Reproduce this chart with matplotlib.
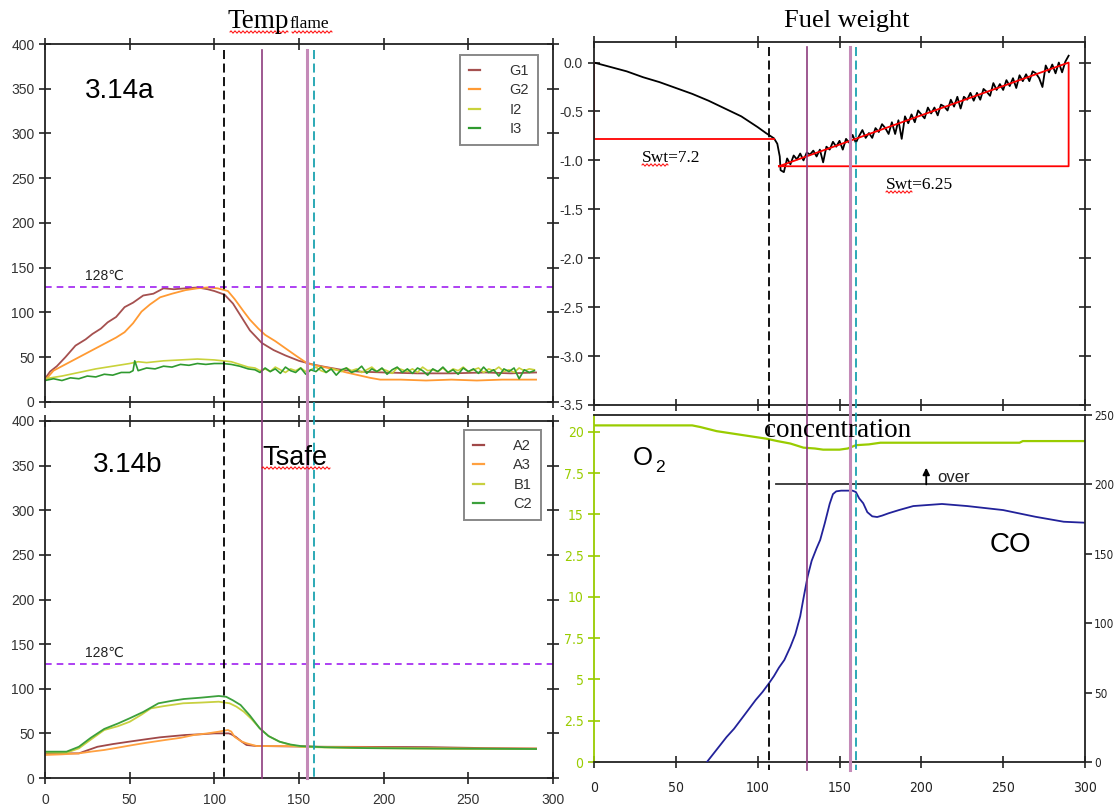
import numpy as np
import matplotlib
matplotlib.use("Agg")
import matplotlib.pyplot as plt
from matplotlib.lines import Line2D
from matplotlib.transforms import blended_transform_factory
from matplotlib import font_manager
from matplotlib.font_manager import FontProperties

plt.rcParams["font.family"] = ["Liberation Sans", "DejaVu Sans"]
plt.rcParams["axes.unicode_minus"] = False

SERIF = ["Liberation Serif", "DejaVu Serif"]

# a condensed face for the gas-analyser axis numbers, if one is installed
_narrow = [f for f in font_manager.fontManager.ttflist
           if "Narrow" in f.name or "Condensed" in f.name
           or str(f.stretch) in ("condensed", "semi-condensed", "extra-condensed")]
_narrow.sort(key=lambda f: (f.weight not in (400, "normal", "regular"), f.style != "normal"))
if _narrow:
    NARROW_FP = FontProperties(fname=_narrow[0].fname)
    NARROW_SIZE = 10
    NARROW_RIGHT = 8.5
else:
    NARROW_FP = FontProperties(family=["DejaVu Sans"])
    NARROW_SIZE = 9
    NARROW_RIGHT = 7.5

# ---------------------------------------------------------------- data
# 3.14a  flame temperatures (degC) vs time (s)
g1_t = [0, 3, 7, 12, 18, 24, 28, 33, 37, 42, 47, 52, 58, 64, 70, 76, 83, 90, 96, 100,
        106, 111, 116, 121, 128, 135, 142, 150, 158, 166, 175, 185, 200, 220, 240, 260, 275, 290]
g1_v = [26, 34, 40, 50, 63, 70, 76, 82, 89, 95, 106, 111, 119, 121, 127, 126, 127, 128, 126, 124,
        120, 110, 95, 80, 66, 58, 52, 46, 42, 39, 36, 34, 33, 32, 32, 33, 32, 33]
g2_t = [0, 5, 10, 17, 25, 32, 37, 42, 47, 52, 57, 62, 68, 75, 83, 90, 96, 102, 108, 112,
        117, 121, 126, 130, 136, 142, 148, 155, 162, 170, 178, 185, 192, 198, 210, 225, 240, 255, 270, 290]
g2_v = [24, 35, 40, 47, 55, 62, 67, 72, 78, 88, 101, 109, 117, 121, 125, 127, 128, 127, 124, 115,
        102, 92, 82, 75, 68, 60, 52, 43, 40, 37, 33, 30, 27, 25, 25, 24, 25, 24, 25, 25]
i2_t = [0, 10, 20, 30, 40, 50, 55, 60, 70, 80, 90, 100, 105, 110, 115, 120]
i2_v = [26, 29, 33, 37, 40, 43, 45, 44, 46, 47, 48, 47, 46, 45, 42, 39]
i3_t = [0, 5, 10, 15, 20, 25, 30, 35, 40, 45, 50, 52, 53, 55, 60, 65, 70, 75, 80, 85,
        90, 95, 100, 105, 110, 115, 120]
i3_v = [24, 26, 24, 27, 26, 29, 28, 31, 30, 33, 33, 35, 46, 35, 38, 37, 40, 39, 42, 41,
        43, 42, 43, 43, 42, 40, 37]
tail_t = list(range(124, 290, 3))
i2_tail = [38, 35, 37, 34, 39, 36, 33, 37, 35, 38, 34, 36, 39, 35, 33, 37, 36, 34, 38, 35,
           37, 33, 36, 39, 34, 37, 35, 32, 38, 36, 34, 37, 33, 39, 35, 36, 34, 38, 33, 37,
           35, 39, 34, 36, 38, 33, 37, 35, 39, 34, 36, 33, 38, 35, 37, 36]
i3_tail = [36, 33, 38, 34, 37, 32, 39, 35, 33, 38, 31, 36, 34, 39, 33, 37, 30, 36, 38, 33,
           35, 40, 32, 37, 34, 38, 31, 36, 39, 33, 37, 32, 38, 35, 30, 37, 34, 39, 33, 36,
           31, 38, 34, 37, 32, 39, 33, 36, 29, 37, 34, 38, 26, 36, 33, 35]

# 3.14b  temperatures
a2_t = [0, 10, 20, 25, 31, 40, 50, 60, 68, 76, 83, 92, 100, 105, 108.5, 110, 112.7, 116, 119,
        124, 128.5, 140, 163, 200, 226, 260, 290]
a2_v = [27.6, 27.6, 27.6, 31, 35, 38, 40.8, 43.5, 45.6, 47, 48.2, 49, 50, 50, 50, 49, 46, 41, 37,
        36, 35.8, 35.5, 35, 34.8, 34.6, 33.5, 33]
a3_t = [0, 10, 20, 27, 35, 43, 52, 60, 71, 80, 88, 96, 102.6, 108, 110, 112, 116, 119, 125,
        140, 160, 200, 250, 290]
a3_v = [25.8, 26.5, 27.6, 29.5, 31.4, 34, 37, 39.5, 42.6, 45, 48.2, 50, 51.9, 53.8, 52, 46, 41,
        38.9, 35.8, 35.8, 35, 34, 33, 33]
b1_t = [0, 12.7, 20, 27, 35, 43, 50, 57, 62.5, 70, 81.6, 92, 102.6, 109, 113, 117.4, 122,
        126.8, 132, 138.5, 145, 151.2, 165, 183, 220, 260, 290]
b1_v = [28.4, 28.4, 33.2, 43, 53.8, 58, 63, 71, 78, 80.5, 83.7, 84.5, 85.5, 83.7, 80, 74.3, 66,
        55.7, 47, 40.7, 37, 35, 34.2, 33.6, 33, 32.7, 32.5]
c2_t = [0, 12.7, 20, 27, 35, 43, 50, 58, 67, 75, 82, 92, 102.6, 107, 111, 115.5, 121, 126.8,
        132, 138.5, 145, 151, 165, 190, 230, 260, 290]
c2_v = [29.5, 29.5, 35, 45, 55, 61, 66.9, 74, 83.7, 86.5, 88.5, 90, 91.9, 91, 87, 81.8, 70,
        55.7, 47, 40.7, 37.5, 35.8, 34.5, 33.5, 33, 32.8, 32.5]

limit_temp = 128

# fuel weight (kg) vs time
fuel_t = [0, 10, 20, 30, 40, 50, 60, 70, 80, 90, 100, 105, 110, 112, 113.5] + list(range(114, 291, 2))
fuel_v = [0, -0.045, -0.09, -0.15, -0.20, -0.26, -0.32, -0.39, -0.47, -0.55, -0.66, -0.72,
          -0.775, -0.83, -0.96,
          -1.10, -1.12, -0.98, -1.04, -0.95, -0.99, -0.93, -1.00, -0.92, -0.94,
          -0.90, -0.96, -0.89, -1.02, -0.86, -0.89, -0.81, -0.86, -0.80, -0.89,
          -0.78, -0.82, -0.74, -0.82, -0.75, -0.69, -0.77, -0.72, -0.77, -0.67,
          -0.71, -0.63, -0.67, -0.73, -0.61, -0.73, -0.59, -0.78, -0.55, -0.62,
          -0.53, -0.61, -0.49, -0.53, -0.57, -0.46, -0.52, -0.46, -0.54, -0.43,
          -0.45, -0.49, -0.38, -0.45, -0.35, -0.47, -0.35, -0.38, -0.31, -0.39,
          -0.31, -0.38, -0.27, -0.30, -0.34, -0.21, -0.28, -0.22, -0.28, -0.18,
          -0.24, -0.16, -0.26, -0.13, -0.19, -0.12, -0.19, -0.09, -0.11, -0.16,
          -0.25, -0.03, -0.10, -0.02, -0.11, 0.00, -0.10, 0.01, 0.07]
box1_t = [0, 0, 110]
box1_v = [0.0, -0.78, -0.78]
fit_t = [113, 290, 290, 113]
fit_v = [-1.06, 0.0, -1.06, -1.06]

# gas concentrations
o2_t = [0, 60, 65, 75, 85, 95, 105, 112, 120, 128, 135, 140, 150, 155, 160, 168, 175, 200,
        240, 260, 262, 300]
o2_v = [20.4, 20.4, 20.3, 20.05, 19.9, 19.75, 19.6, 19.45, 19.3, 19.05, 19.0, 18.93, 18.93,
        19.0, 19.2, 19.25, 19.35, 19.35, 19.35, 19.35, 19.45, 19.45]
co_t = [69, 73, 77, 81, 85.6, 92, 98.8, 103, 106.9, 110, 113, 116.3, 120, 123, 126, 128,
        130.5, 133, 136, 138.2, 141, 144, 146, 148, 151, 158, 160, 162, 164.5, 167, 170,
        173, 176, 180, 186.3, 195.1, 212.6, 228, 250, 269.6, 287, 300]
co_v = [0, 6, 12, 18, 24, 34, 44.7, 50.5, 56.7, 62, 68, 73.5, 83, 92, 105, 118,
        133.5, 145, 154, 160, 172, 186, 193, 195, 195.5, 195.5, 194.5, 190, 186.4, 180, 177,
        176.5, 177.5, 179.2, 181.5, 184.4, 185.9, 184.4, 181.5, 176.7, 173.1, 172.4]
co_over = 200
over_start = 111
over_arrow_t = 203

# event times (s) in each column of panels
events_left = [105.5, 128, 155, 159]
events_right = [107, 130, 156.5, 160]

time_ticks = [0, 50, 100, 150, 200, 250, 300]
temp_ticks = [0, 50, 100, 150, 200, 250, 300, 350, 400]
fuel_ticks = [0.0, -0.5, -1.0, -1.5, -2.0, -2.5, -3.0, -3.5]
o2_ticks = [0, 2.5, 5, 7.5, 10, 12.5, 15, 17.5, 20]
o2_tick_labels = ["0", "2.5", "5", "7.5", "10", "2.5", "15", "7.5", "20"]
co_ticks = [0, 50, 100, 150, 200, 250]

# ---------------------------------------------------------------- figure
W, H = 1117, 810
fig = plt.figure(figsize=(W / 100, H / 100), dpi=100)
fig.patch.set_facecolor("white")


def box(l, t, r, b):
    return [l / W, 1 - b / H, (r - l) / W, (b - t) / H]


def fx(x):
    return x / W


def fy(y):
    return 1 - y / H


def squiggle(x0, x1, y):
    xs = np.arange(x0, x1 + 0.01, 0.5)
    ys = y + 1.1 * np.sin(xs * np.pi / 2.0)
    fig.add_artist(Line2D(xs / W, 1 - ys / H, transform=fig.transFigure,
                          color="red", lw=0.7))


def narrow(labels, size):
    for lab in labels:
        lab.set_fontproperties(NARROW_FP)
        lab.set_fontsize(size)


C_G1, C_G2, C_I2, C_I3 = "#a5504f", "#ff9a33", "#c9d23b", "#2f9a2f"
C_A2, C_A3, C_B1, C_C2 = "#a04848", "#ffa040", "#c8d040", "#3ca03c"
C_O2, C_CO = "#99cc00", "#22229a"
TICK_C = "#333333"


def style_temp(ax, show_x):
    ax.set_xlim(0, 300)
    ax.set_ylim(0, 400)
    ax.set_xticks(time_ticks)
    ax.set_yticks(temp_ticks)
    ax.tick_params(direction="inout", length=9, width=1.2, top=True, right=True,
                   labelsize=10, labelcolor=TICK_C, colors="#222")
    ax.tick_params(axis="y", pad=3)
    ax.tick_params(axis="x", labelbottom=show_x, pad=6)
    for sp in ax.spines.values():
        sp.set_linewidth(1.3)
        sp.set_color("#222")


def temp_legend(ax, names, colors, anchor):
    handles = [Line2D([], [], color=c, lw=1.6) for c in colors]
    leg = ax.legend(handles, names, loc="upper right", bbox_to_anchor=anchor,
                    frameon=True, fancybox=False, edgecolor="#888888", framealpha=1,
                    fontsize=10.5, handlelength=0.8, handletextpad=2.0,
                    labelspacing=0.38, borderpad=0.6, borderaxespad=0,
                    labelcolor="#333333")
    leg.get_frame().set_linewidth(1.4)


# ---- 3.14a
ax_a = fig.add_axes(box(45, 44, 553, 402))
style_temp(ax_a, False)
ax_a.plot(g1_t, g1_v, color=C_G1, lw=1.3)
ax_a.plot(g2_t, g2_v, color=C_G2, lw=1.3)
ax_a.plot(i2_t + tail_t, i2_v + i2_tail, color=C_I2, lw=1.2)
ax_a.plot(i3_t + tail_t, i3_v + i3_tail, color=C_I3, lw=1.2)
ax_a.axhline(limit_temp, color="#a020f0", lw=1.2, ls=(0, (4, 3)))
temp_legend(ax_a, ["G1", "G2", "I2", "I3"], [C_G1, C_G2, C_I2, C_I3], (0.970, 0.969))

# ---- 3.14b
ax_b = fig.add_axes(box(45, 421, 553, 778))
style_temp(ax_b, True)
ax_b.plot(a2_t, a2_v, color=C_A2, lw=1.3)
ax_b.plot(a3_t, a3_v, color=C_A3, lw=1.3)
ax_b.plot(b1_t, b1_v, color=C_B1, lw=1.3)
ax_b.plot(c2_t, c2_v, color=C_C2, lw=1.3)
ax_b.axhline(limit_temp, color="#a020f0", lw=1.2, ls=(0, (4, 3)))
temp_legend(ax_b, ["A2", "A3", "B1", "C2"], [C_A2, C_A3, C_B1, C_C2], (0.976, 0.975))

# ---- fuel weight
ax_w = fig.add_axes(box(594, 42, 1085, 405))
ax_w.set_xlim(0, 300)
ax_w.set_ylim(-3.5, 0.21)
ax_w.set_xticks(time_ticks)
ax_w.set_yticks(fuel_ticks)
ax_w.set_yticklabels([f"{v:.1f}" for v in fuel_ticks])
ax_w.tick_params(direction="inout", length=9, width=1.2, top=True, right=True,
                 labelsize=10, labelcolor=TICK_C, labelbottom=False, colors="#222")
for sp in ax_w.spines.values():
    sp.set_linewidth(1.3)
    sp.set_color("#222")
ax_w.plot(fuel_t, fuel_v, color="black", lw=1.3)
ax_w.plot(box1_t, box1_v, color="red", lw=1.3)
ax_w.plot(fit_t, fit_v, color="red", lw=1.3)

# ---- concentrations
ax_c = fig.add_axes(box(594, 415, 1085, 762))
ax_c.set_xlim(0, 300)
ax_c.set_ylim(0, 21.03)
ax_c.set_xticks(time_ticks)
ax_c.set_yticks(o2_ticks)
ax_c.set_yticklabels(o2_tick_labels)
ax_c.tick_params(axis="y", direction="inout", length=9, width=1.2, colors=C_O2, pad=3)
ax_c.tick_params(axis="x", direction="inout", length=9, width=1.2, colors="#222", pad=9)
narrow(ax_c.get_yticklabels() + ax_c.get_xticklabels(), NARROW_SIZE)
for sp in ax_c.spines.values():
    sp.set_linewidth(1.3)
    sp.set_color("#222")
ax_c.spines["left"].set_color(C_O2)
ax_c.spines["right"].set_visible(False)
ax_c.plot(o2_t, o2_v, color=C_O2, lw=1.6)

ax_co = ax_c.twinx()
ax_co.set_ylim(0, 250)
ax_co.set_yticks(co_ticks)
ax_co.tick_params(axis="y", direction="out", length=5, width=1.2, colors="#222", pad=1.5)
narrow(ax_co.get_yticklabels(), NARROW_RIGHT)
for side in ("left", "top", "bottom"):
    ax_co.spines[side].set_visible(False)
ax_co.spines["right"].set_linewidth(1.3)
ax_co.spines["right"].set_color("#222")
ax_co.plot(co_t, co_v, color=C_CO, lw=1.3)
ax_co.plot([over_start, 300], [co_over, co_over], color="#333", lw=1.3, clip_on=False)
ax_co.annotate("", xy=(over_arrow_t, co_over + 12), xytext=(over_arrow_t, co_over),
               arrowprops=dict(arrowstyle="-|>", color="black", lw=1.3,
                               mutation_scale=10, shrinkA=0, shrinkB=0))

# ---- event lines crossing each column of panels
event_styles = [dict(color="black", ls=(0, (5, 2.5)), lw=1.3),
                dict(color="#8e3c7e", ls="-", lw=1.2),
                dict(color="#c48ab8", ls="-", lw=2.2),
                dict(color="#1aa3b0", ls=(0, (5, 2.5)), lw=1.3)]


def event_lines(ax, times, top_px, bottom_px):
    tr = blended_transform_factory(ax.transData, fig.transFigure)
    for t, st in zip(times, event_styles):
        fig.add_artist(Line2D([t, t], [fy(top_px), fy(bottom_px)], transform=tr, **st))


event_lines(ax_a, events_left, 50, 778)
event_lines(ax_w, events_right, 47, 770)

# ---- titles and annotations
fig.text(fx(228), fy(28), "Temp", family=SERIF, fontsize=19.5, va="baseline")
fig.text(fx(290), fy(28), "flame", family=SERIF, fontsize=12.5, va="baseline")
squiggle(230, 288, 32)
squiggle(292, 332, 32)
fig.text(fx(847), fy(27), "Fuel weight", family=SERIF, fontsize=19, va="baseline", ha="center")
fig.text(fx(838), fy(437), "concentration", family=SERIF, fontsize=19.5, va="baseline",
         ha="center")

fig.text(fx(85), fy(98), "3.14a", fontsize=20, va="baseline")
fig.text(fx(93), fy(472), "3.14b", fontsize=20, va="baseline")
fig.text(fx(262), fy(465), "Tsafe", fontsize=19.5, va="baseline")
squiggle(262, 330, 468)
fig.text(fx(85), fy(280), "128℃", fontsize=10, va="baseline", color="#222")
fig.text(fx(85), fy(657), "128℃", fontsize=10, va="baseline", color="#222")

fig.text(fx(642), fy(162), "Swt=7.2", family=SERIF, fontsize=12.5, va="baseline")
squiggle(642, 668, 165)
fig.text(fx(886), fy(189), "Swt=6.25", family=SERIF, fontsize=12.5, va="baseline")
squiggle(886, 912, 192)

fig.text(fx(633), fy(465), "O", fontsize=18.5, va="baseline")
fig.text(fx(655), fy(472), "2", fontsize=12.5, va="baseline")
fig.text(fx(990), fy(552), "CO", fontsize=20, va="baseline")
fig.text(fx(937), fy(482), "over", fontsize=12, va="baseline", color="#222")

fig.savefig("out.png", dpi=100, facecolor="white")
